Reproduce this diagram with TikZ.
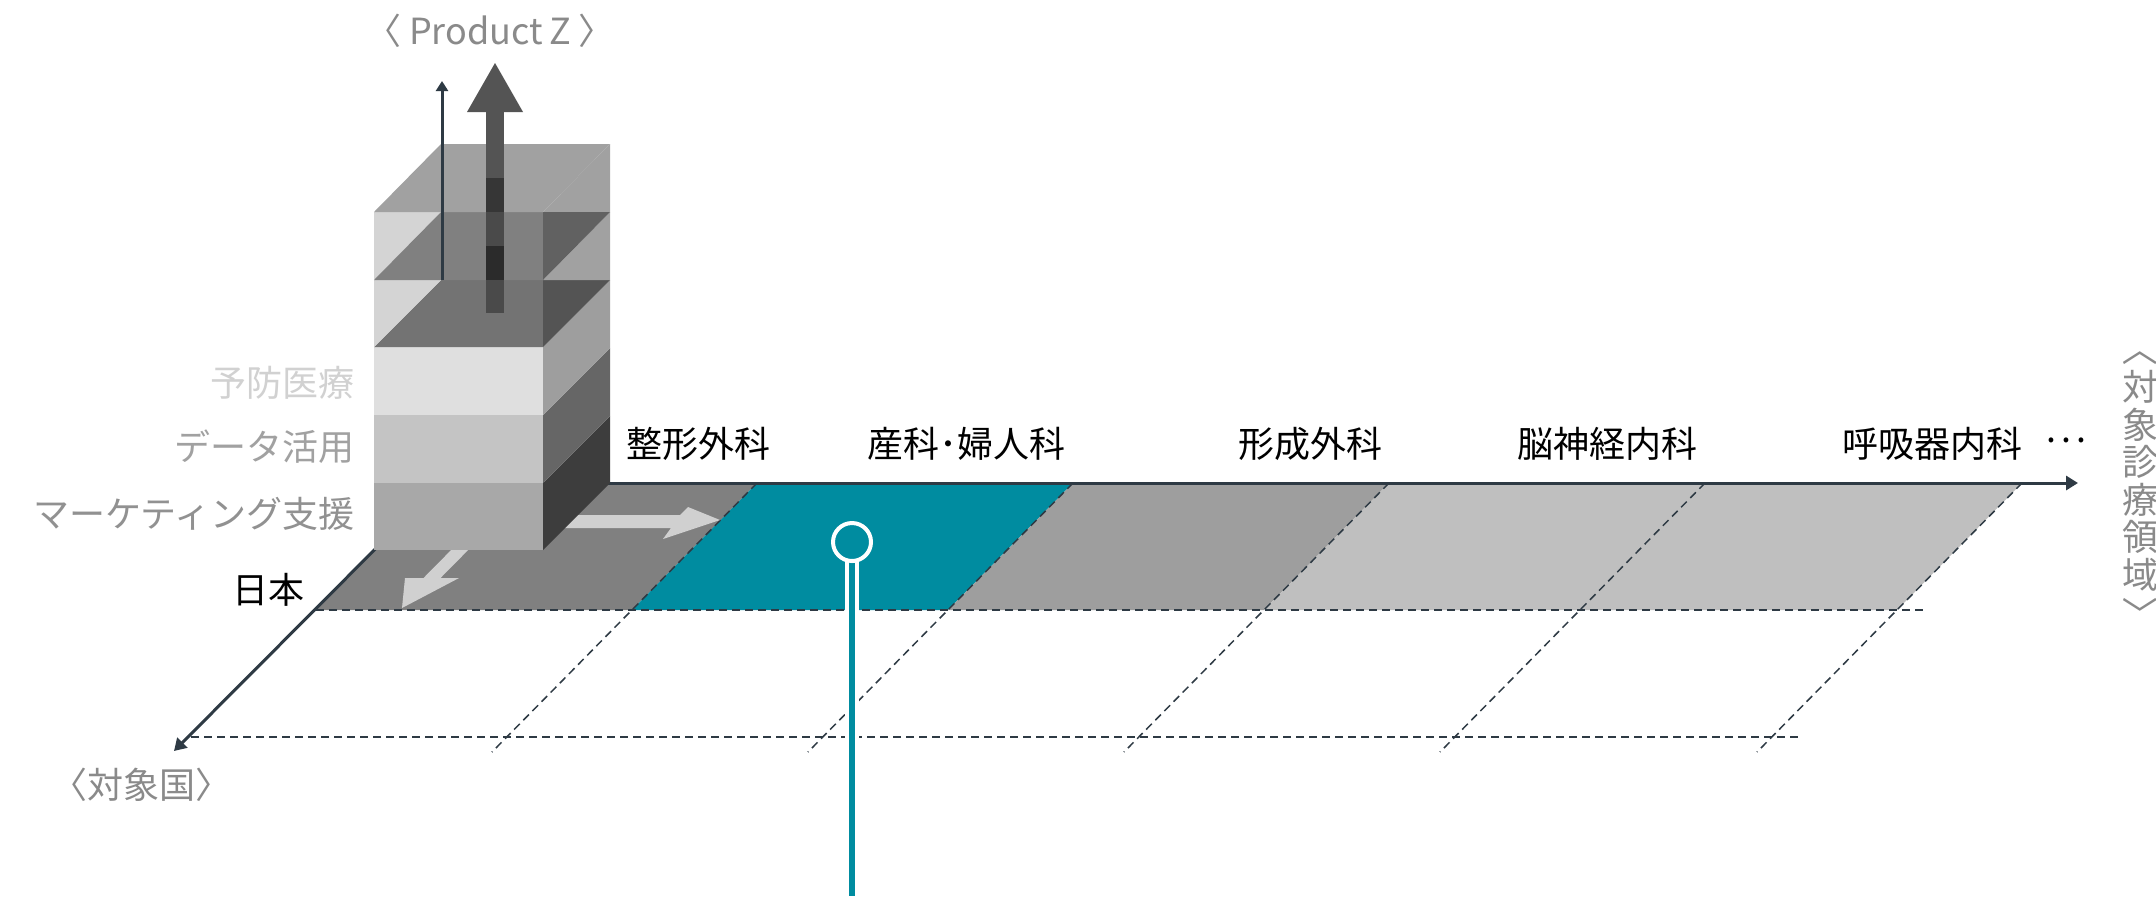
\documentclass[tikz,border=0pt]{standalone}
\usepackage{fontspec}
\setmainfont{Noto Sans CJK JP}
\usetikzlibrary{arrows.meta}
\definecolor{tealc}{RGB}{0,140,160}
\definecolor{axiscol}{HTML}{2E3A44}
\definecolor{lblc}{HTML}{8A8A8A}
\definecolor{arrowc}{HTML}{D0D0D0}
\begin{document}
\begin{tikzpicture}[x=0.5pt,y=-0.5pt,
  dashline/.style={draw=axiscol, line width=0.75pt, dash pattern=on 4pt off 2.5pt},
  axisline/.style={draw=axiscol, line width=1.5pt, -{Triangle[length=6pt,width=7pt]}},
  txt/.style={font=\fontsize{18pt}{20pt}\selectfont, inner sep=0pt},
  cat/.style={txt, text=black},
  glabel/.style={txt, text=lblc},
  floorarrow/.style={fill=arrowc, draw=none},
]
\fill[white] (0,0) rectangle (2156,896);
\useasboundingbox (0,0) rectangle (2156,896);

% ---------- floor ----------
\fill[black!50] (441,483) -- (757,483) -- (632,610) -- (316,610) -- cycle;
\fill[tealc] (757,483) -- (1073,483) -- (948,610) -- (632,610) -- cycle;
\fill[black!38] (1073,483) -- (1389,483) -- (1264,610) -- (948,610) -- cycle;
\fill[black!25] (1389,483) -- (2022,483) -- (1897,610) -- (1264,610) -- cycle;

% dashed grid
\draw[dashline] (316,610) -- (1926,610);
\draw[dashline] (191,737) -- (1800,737);
\foreach \bx in {757,1073,1389,1705,2022}
  \draw[dashline] (\bx,483) -- ({\bx-265},752);

% floor arrows
\fill[floorarrow] (559,515) -- (680,515) -- (688,507) -- (720,520) -- (663,539) -- (671,528) -- (546,528) -- cycle;
\fill[floorarrow] (463,538) -- (480,538) -- (440.5,578) -- (459,578) -- (402,608) -- (405,578) -- (423.5,578) -- cycle;

% axes
\coordinate (origin) at (441,483);
\coordinate (xend) at (2078,483);
\coordinate (yend) at (174,751);
\coordinate (zbase) at (442,280);
\coordinate (zend) at (442,81);
\draw[axisline] (origin) -- (xend);
\draw[axisline] (origin) -- (yend);

% ---------- cube (opaque layers) ----------
\fill[black!34] (374,483) rectangle (543,550);
\fill[black!76] (543,483) -- (610,416) -- (610,483) -- (543,550) -- cycle;
\fill[black!23] (374,415) rectangle (543,483);
\fill[black!60] (543,415) -- (610,348) -- (610,416) -- (543,483) -- cycle;
\fill[black!12.5] (374,347) rectangle (543,415);
\fill[black!38] (543,347) -- (610,280) -- (610,348) -- (543,415) -- cycle;
% top of layer 3 seen through
\fill[black!55] (374,347) -- (543,347) -- (543,280) -- (441,280) -- cycle;
\fill[black!67] (543,347) -- (610,280) -- (543,280) -- cycle;
% layer 4 (translucent)
\fill[black!17] (374,280) -- (441,280) -- (374,347) -- cycle;
\fill[black!37] (543,280) -- (610,212) -- (610,280) -- cycle;
% layer 5 (translucent)
\fill[black!17] (374,212) -- (441,212) -- (374,280) -- cycle;
\fill[black!50] (374,280) -- (441,212) -- (543,212) -- (543,280) -- cycle;
\fill[black!37] (543,212) -- (610,144) -- (610,212) -- cycle;
\fill[black!62] (543,212) -- (610,212) -- (543,280) -- cycle;
\fill[black!37] (374,212) -- (543,212) -- (610,144) -- (441,144) -- cycle;

% big arrow
\fill[black!67] (467,112) -- (495,63) -- (523,112) -- cycle;
\fill[black!67] (486,111) rectangle (504,178);
\fill[black!79] (486,178) rectangle (504,212);
\fill[black!71] (486,212) rectangle (504,246);
\fill[black!83] (486,246) rectangle (504,280);
\fill[black!71] (486,280) rectangle (504,313);

% thin vertical axis
\draw[axisline, -{Triangle[length=5pt,width=6pt]}] (zbase) -- (zend);

% ---------- pin ----------
\coordinate (pinbot) at (852,896);
\coordinate (pintop) at (852,560);
\draw[white, line width=7pt] (pintop) -- (pinbot);
\draw[tealc, line width=3pt] (pintop) -- (pinbot);
\node[circle, draw=white, fill=tealc, line width=2pt, minimum size=19pt, inner sep=0pt] (pin) at (852,542) {};

% ---------- texts ----------
\node[glabel] (prodz) at (490,31) {〈 Product\,Z 〉};
\node[glabel, text=black!18, anchor=east] (l3) at (355,383) {予防医療};
\node[glabel, text=black!37, anchor=east] (l2) at (355,447) {データ活用};
\node[glabel, text=black!43, anchor=east] (l1) at (355,514) {マーケティング支援};
\node[cat] (jp) at (268,590) {日本};
\node[glabel] (country) at (141,785) {〈対象国〉};

\node[cat] (c1) at (698,444) {整形外科};
\node[cat] (c2) at (966,444) {産科･婦人科};
\node[cat] (c3) at (1310,444) {形成外科};
\node[cat] (c4) at (1607,444) {脳神経内科};
\node[cat] (c5) at (1932,444) {呼吸器内科};
\node[cat] (c6) at (2067,446) {\makebox[7.5pt]{·}\makebox[7.5pt]{·}\makebox[7.5pt]{·}};

\node[glabel, align=center, font=\fontsize{18pt}{18.75pt}\selectfont] (vt) at (2140,481) {対\\象\\診\\療\\領\\域};
\node[glabel] (vtop) at (2140,348) {\rotatebox{-90}{〈}};
\node[glabel] (vbot) at (2140,614) {\rotatebox{-90}{〉}};
\end{tikzpicture}
\end{document}
